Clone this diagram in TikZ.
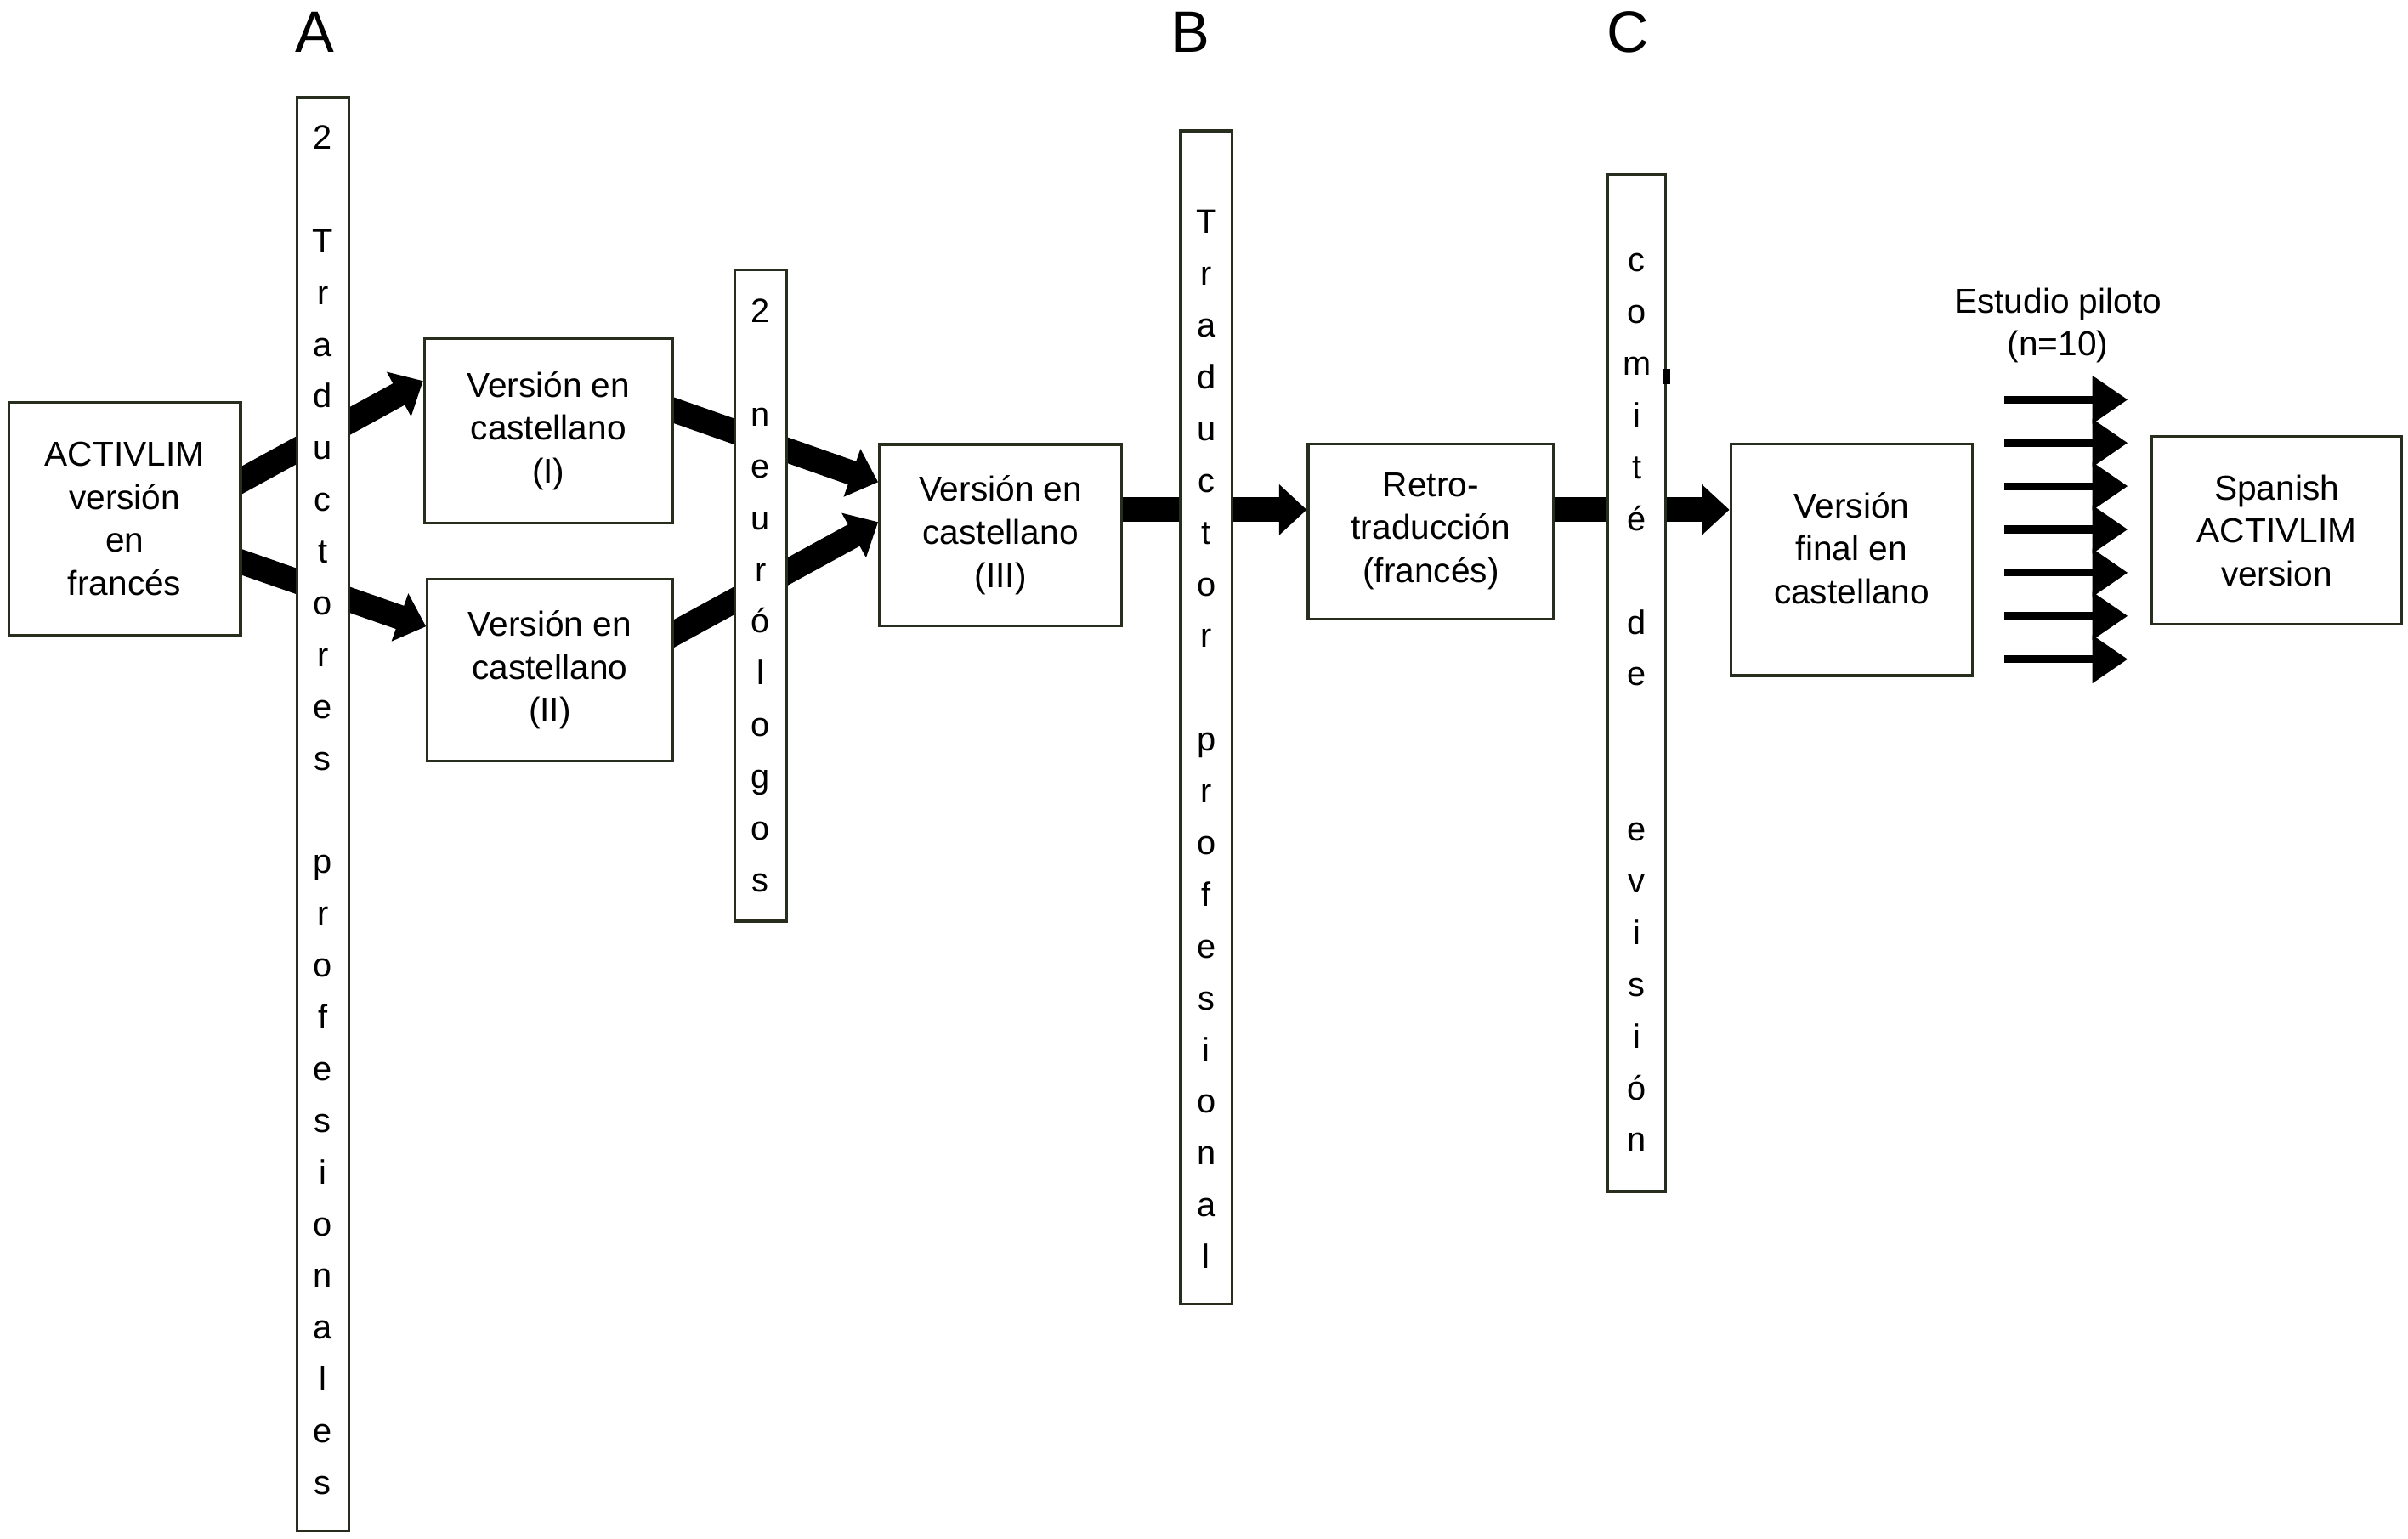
\documentclass[tikz,border=0pt]{standalone}
\usepackage{fontspec}
\setmainfont{Liberation Sans}
\usetikzlibrary{arrows.meta}
\pgfdeclarelayer{bg}
\pgfsetlayers{bg,main}
\definecolor{bordercol}{RGB}{40,46,30}
\begin{document}
\begin{tikzpicture}[x=1pt,y=-1pt,
  procbox/.style={draw=bordercol,line width=1.8pt,fill=white,align=center,inner sep=0pt,font=\fontsize{22.5}{28}\selectfont},
  barbox/.style={draw=bordercol,line width=1.8pt,fill=white,inner sep=0pt},
  stack/.style={align=center,inner sep=0pt,anchor=north,font=\fontsize{22}{33.7}\selectfont},
  steplabel/.style={anchor=base,inner sep=0pt,font=\fontsize{38}{40}\selectfont},
  fat/.style={line width=16pt,-{Triangle[length=18pt,width=32pt]}},
  pilotarrow/.style={line width=5pt,-{Triangle[length=23pt,width=30pt]}}]
\useasboundingbox (0,0) rectangle (1568,1001.8);

% labels
\node[steplabel] (labA) at (205,33.8) {A};
\node[steplabel] (labB) at (775,33.8) {B};
\node[steplabel] (labC) at (1060,33.8) {C};

% boxes
\node[procbox,minimum width=150.9pt,minimum height=152pt] (act) at (81.15,338) {ACTIVLIM\\versión\\en\\francés};
\node[procbox,minimum width=161.4pt,minimum height=120.3pt] (v1) at (357.1,280.55) {Versión en\\castellano\\(I)};
\node[procbox,minimum width=159.5pt,minimum height=118.6pt] (v2) at (358.05,436.3) {Versión en\\castellano\\(II)};
\node[procbox,minimum width=157.6pt,minimum height=118.2pt] (v3) at (651.5,348.5) {Versión en\\castellano\\(III)};
\node[procbox,minimum width=159.8pt,minimum height=114pt] (retro) at (931.7,346) {Retro-\\traducción\\(francés)};
\node[procbox,minimum width=157.5pt,minimum height=151pt] (final) at (1205.75,364.5) {Versión\\final en\\castellano\rule[-15pt]{0pt}{15pt}};
\node[procbox,minimum width=162.6pt,minimum height=122.2pt] (span) at (1482.5,345.4) {Spanish\\ACTIVLIM\\version};

% vertical bars
\node[barbox,minimum width=33.7pt,minimum height=933.4pt] (b1) at (210.15,530.3) {};
\node[barbox,minimum width=33.8pt,minimum height=424.4pt] (b2) at (495.2,387.8) {};
\node[barbox,minimum width=33.6pt,minimum height=764.3pt] (b3) at (785.6,467.35) {};
\node[barbox,minimum width=37.7pt,minimum height=662.6pt] (b4) at (1065.85,444.7) {};

\node[stack] (t1) at (b1.center |- 0,79.9) {\rule{0pt}{17pt}2\\~\\T\\r\\a\\d\\u\\c\\t\\o\\r\\e\\s\\~\\p\\r\\o\\f\\e\\s\\i\\o\\n\\a\\l\\e\\s};
\node[stack] (t2) at (b2.center |- 0,192.9) {\rule{0pt}{17pt}2\\~\\n\\e\\u\\r\\ó\\l\\o\\g\\o\\s};
\node[stack] (t3) at (b3.center |- 0,134.9) {\rule{0pt}{17pt}T\\r\\a\\d\\u\\c\\t\\o\\r\\~\\p\\r\\o\\f\\e\\s\\i\\o\\n\\a\\l};
\node[stack] (t4) at (b4.center |- 0,159.8) {\rule{0pt}{17pt}c\\o\\m\\i\\t\\é\\~\\d\\e\\~\\~\\e\\v\\i\\s\\i\\ó\\n};

\fill[black] (1083,240) rectangle (1087.5,250);

% thick connectors, behind boxes and bars
\coordinate (s1) at ([yshift=16.5pt]v3.east);
\coordinate (s2) at ([yshift=14pt]retro.east);
\begin{pgfonlayer}{bg}
\draw[fat] ([yshift=22pt,xshift=-6pt]act.east) -- ([yshift=32.5pt]v1.west);
\draw[fat] ([yshift=-26pt,xshift=-6pt]act.east) -- ([yshift=28.3pt]v2.west);
\draw[fat] ([yshift=15.5pt,xshift=-6pt]v1.east) -- ([yshift=34.5pt]v3.west);
\draw[fat] ([yshift=20.3pt,xshift=-6pt]v2.east) -- ([yshift=8.5pt]v3.west);
\draw[fat] (s1) -- (s1 -| retro.west);
\draw[fat] (s2) -- (s2 -| final.west);
\end{pgfonlayer}

% pilot study
\node[align=center,inner sep=0pt,font=\fontsize{22.5}{28}\selectfont] (pilot) at (1340,212) {Estudio piloto\\(n=10)};
\foreach \i in {0,...,6} {
  \coordinate (p\i) at (1305,260.3+28.17*\i);
  \coordinate (q\i) at (1385.5,260.3+28.17*\i);
  \draw[pilotarrow] (p\i) -- (q\i);
}
\end{tikzpicture}
\end{document}
